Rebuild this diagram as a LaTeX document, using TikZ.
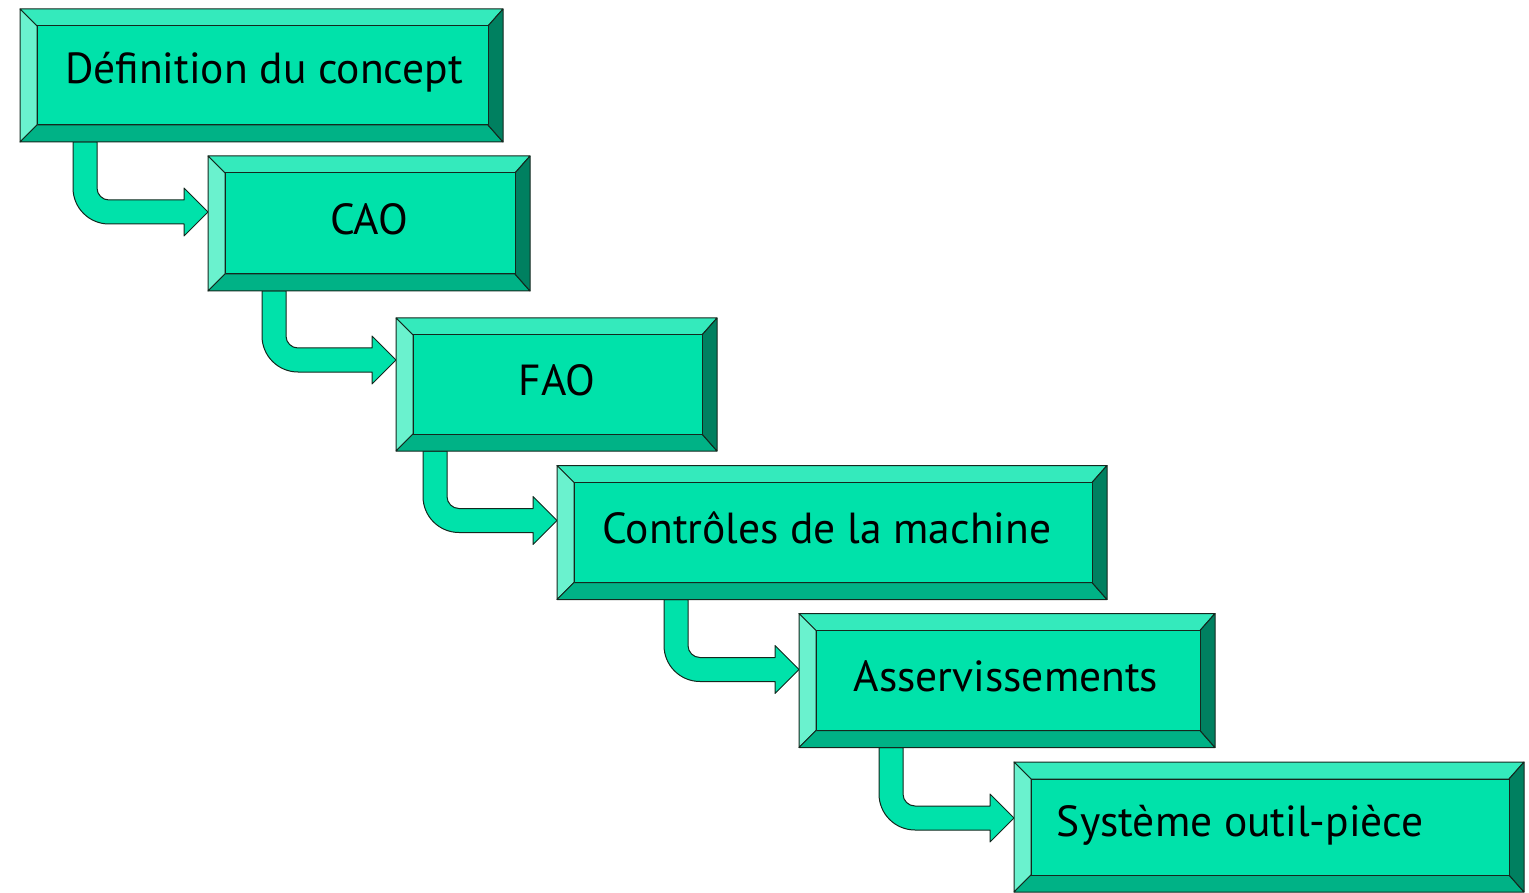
\documentclass[tikz,border=0pt]{standalone}
\usepackage{fontspec}
\setmainfont{PT Sans}
\usetikzlibrary{calc}
\definecolor{face}{RGB}{0,226,170}
\definecolor{bevtopc}{RGB}{52,234,188}
\definecolor{bevleftc}{RGB}{106,242,206}
\definecolor{bevbotc}{RGB}{0,178,134}
\definecolor{bevrightc}{RGB}{0,128,96}
\definecolor{edge}{RGB}{20,40,30}
\tikzset{
  boxnode/.style={inner sep=0pt,outer sep=0pt},
  bevel/.style={draw=edge,line width=1pt,line join=round},
  lbl/.style={inner sep=0pt,font=\fontsize{43.5}{50}\selectfont,text=black},
  flow/.style={fill=face,draw=edge,line width=1pt,line join=round}
}
% draws the bevelled look on an existing node
\newcommand\bevbox[1]{%
  \filldraw[bevel,fill=bevtopc] (#1.north west) -- (#1.north east) -- ([shift={(-15,-17)}]#1.north east) -- ([shift={(17,-17)}]#1.north west) -- cycle;
  \filldraw[bevel,fill=bevleftc] (#1.north west) -- ([shift={(17,-17)}]#1.north west) -- ([shift={(17,17)}]#1.south west) -- (#1.south west) -- cycle;
  \filldraw[bevel,fill=bevbotc] (#1.south west) -- ([shift={(17,17)}]#1.south west) -- ([shift={(-15,17)}]#1.south east) -- (#1.south east) -- cycle;
  \filldraw[bevel,fill=bevrightc] (#1.south east) -- ([shift={(-15,17)}]#1.south east) -- ([shift={(-15,-17)}]#1.north east) -- (#1.north east) -- cycle;
  \filldraw[bevel,fill=face] ([shift={(17,-17)}]#1.north west) rectangle ([shift={(-15,17)}]#1.south east);
}
% from, to, shaft left x, tip depth below top of target
\newcommand\flowarr[4]{%
  \filldraw[flow] let \p1=(#1.south), \p2=([yshift=-#4pt]#2.north west) in
    (#3pt,\y1) -- (#3pt,\y2+24pt) arc[start angle=180,end angle=270,radius=36pt]
    -- (\x2-24pt,\y2-12pt) -- (\x2-24pt,\y2-24pt) -- (\x2,\y2) -- (\x2-24pt,\y2+24pt)
    -- (\x2-24pt,\y2+12pt) -- (#3pt+36pt,\y2+12pt) arc[start angle=270,end angle=180,radius=12pt]
    -- (#3pt+24pt,\y1) -- cycle;
}
\begin{document}
\begin{tikzpicture}[x=1pt,y=1pt]
\useasboundingbox (0,0) rectangle (1529,-893);
\clip (0,0) rectangle (1529,-893);
\node[boxnode,minimum width=483,minimum height=133] (b1) at (261.5,-75.5) {};
\node[boxnode,minimum width=322,minimum height=135] (b2) at (369,-223.5) {};
\node[boxnode,minimum width=321,minimum height=133] (b3) at (556.5,-384.5) {};
\node[boxnode,minimum width=550,minimum height=134] (b4) at (832,-532.5) {};
\node[boxnode,minimum width=416,minimum height=134] (b5) at (1007,-680.5) {};
\node[boxnode,minimum width=510,minimum height=130] (b6) at (1269,-827) {};
\flowarr{b1}{b2}{73}{56}
\flowarr{b2}{b3}{262}{42}
\flowarr{b3}{b4}{423}{55}
\flowarr{b4}{b5}{664}{56}
\flowarr{b5}{b6}{879}{56}
\bevbox{b1}
\bevbox{b2}
\bevbox{b3}
\bevbox{b4}
\bevbox{b5}
\bevbox{b6}
\node[lbl] (t1) at (264,-72) {Définition du concept};
\node[lbl] (t2) at (369,-219) {CAO};
\node[lbl] (t3) at (557,-380) {FAO};
\node[lbl] (t4) at (827,-528) {Contrôles de la machine};
\node[lbl] (t5) at (1006,-676) {Asservissements};
\node[lbl] (t6) at (1240,-825) {Système outil-pièce};
\end{tikzpicture}
\end{document}
